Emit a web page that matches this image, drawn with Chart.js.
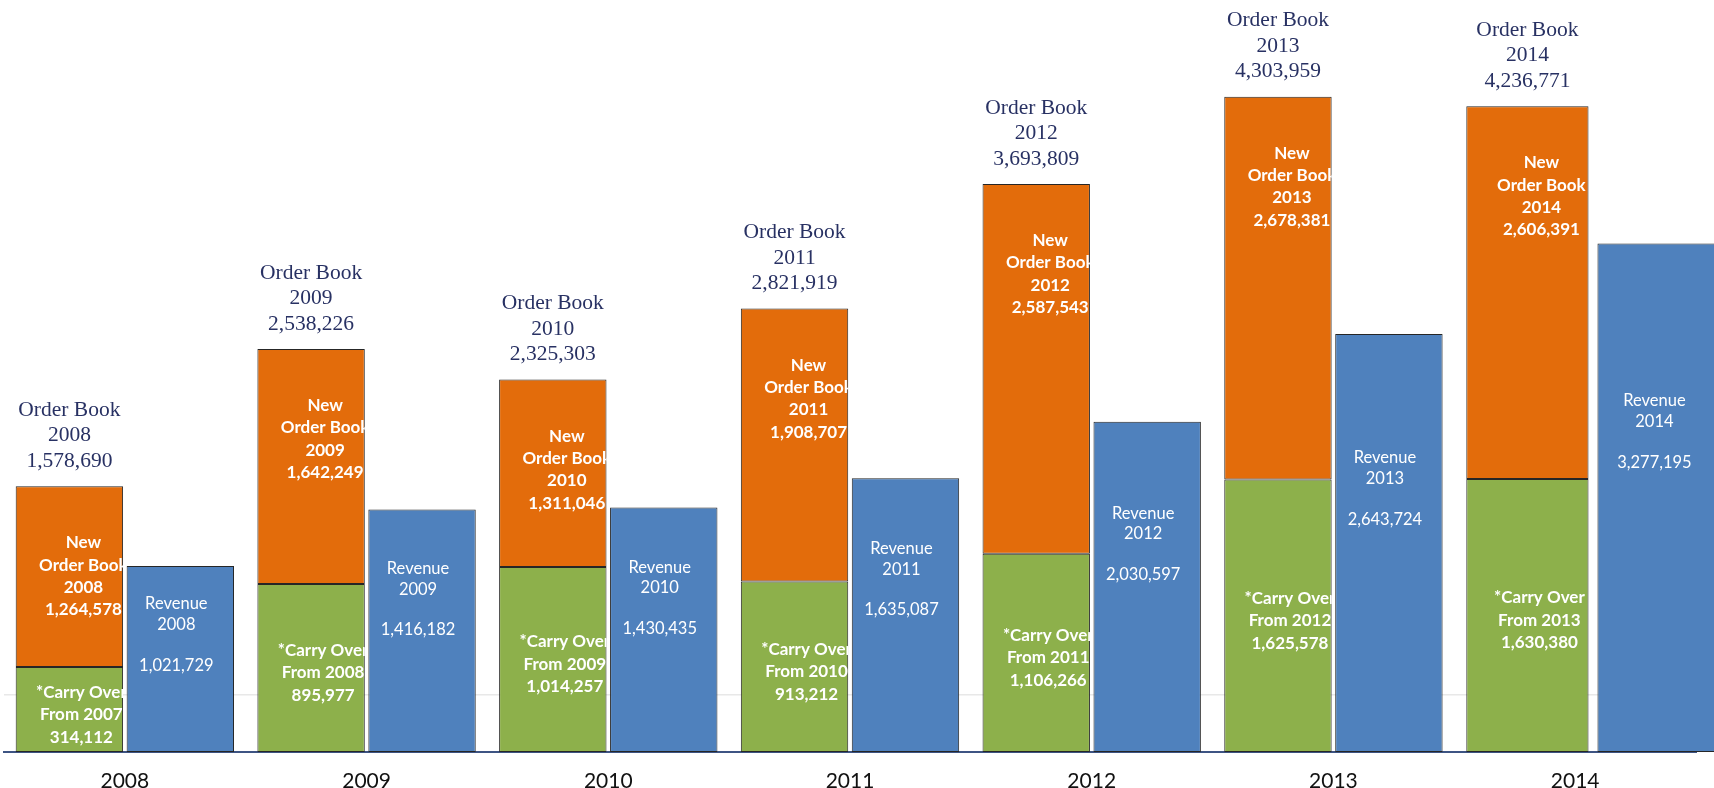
<!DOCTYPE html>
<html><head><meta charset="utf-8">
<script src="https://cdn.jsdelivr.net/npm/chart.js@4"></script>
<style>
html,body{margin:0;padding:0;background:#fff;overflow:hidden}
#wrap{position:relative;width:1714px;height:788px}
</style>
</head><body><div id="wrap"><canvas id="c"></canvas></div>
<script>
const years = ['2008','2009','2010','2011','2012','2013','2014'];
const carryOver = [314112, 895977, 1014257, 913212, 1106266, 1625578, 1630380];
const newOrders = [1264578, 1642249, 1311046, 1908707, 2587543, 2678381, 2606391];
const revenue = [1021729, 1416182, 1430435, 1635087, 2030597, 2643724, 3277195];
const orderBook = [1578690, 2538226, 2325303, 2821919, 3693809, 4303959, 4236771];
const carryFrom = ['2007','2008','2009','2010','2011','2012','2013'];
const gridTicks = [120000];

const AXIS_MIN = -280000;
const AXIS_MAX = 4980000;
const WIDE_INDEX = 6; // last group is drawn with wider bars in the original

const fmt = v => v.toLocaleString('en-US');
const normal = arr => arr.map((v, i) => i === WIDE_INDEX ? null : v);
const wide = arr => arr.map((v, i) => i === WIDE_INDEX ? v : null);

function drawLines(ctx, lines, cx, cy, offsets, clipRect) {
  ctx.save();
  if (clipRect) {
    ctx.beginPath();
    ctx.rect(clipRect.l, clipRect.t, clipRect.r - clipRect.l, clipRect.b - clipRect.t);
    ctx.clip();
  }
  lines.forEach((t, k) => ctx.fillText(t, cx, cy + offsets[k]));
  ctx.restore();
}

const labelPlugin = {
  id: 'barLabels',
  afterDatasetsDraw(chart) {
    const ctx = chart.ctx;
    const el = (ds, i) => {
      const m = chart.getDatasetMeta(i === WIDE_INDEX ? ds + 3 : ds);
      return m.data[i].getProps(['x','y','base','width'], true);
    };
    ctx.save();
    ctx.textAlign = 'center';
    ctx.textBaseline = 'middle';
    years.forEach((yr, i) => {
      const g = el(0, i), o = el(1, i), r = el(2, i);
      const rect = e => ({l: e.x - e.width/2, r: e.x + e.width/2, t: Math.min(e.y, e.base), b: Math.max(e.y, e.base)});

      ctx.fillStyle = '#283163';
      ctx.font = '21.5px "Liberation Serif"';
      drawLines(ctx, ['Order Book', yr, fmt(orderBook[i])], o.x, o.y - 25, [-51, -25.5, 0]);

      ctx.fillStyle = '#ffffff';
      ctx.font = 'bold 17px Lato';
      drawLines(ctx, ['New', 'Order Book', yr, fmt(newOrders[i])], o.x + 14, o.y + 90,
        [-33.5, -11.2, 11.2, 33.5], rect(o));
      const gc = (g.y + g.base) / 2 + 5;
      drawLines(ctx, ['*Carry Over', 'From ' + carryFrom[i], fmt(carryOver[i])], g.x + 12, gc,
        [-22.5, 0, 22.5], rect(g));
      ctx.font = '16.5px Lato';
      const rh = r.base - r.y;
      const rc = r.y + 0.37 * rh;
      drawLines(ctx, ['Revenue', yr, fmt(revenue[i])], r.x - 4, rc, [-30.6, -9.8, 30.6]);
    });
    ctx.restore();
  }
};

const common = {borderColor: '#262626', borderWidth: 1, inflateAmount: 0, borderSkipped: false,
  barPercentage: 0.968, categoryPercentage: 0.918};
const wideOb = {barPercentage: 1.28, categoryPercentage: 0.79};
const wideRev = {barPercentage: 0.732, categoryPercentage: 1.378, clip: false};

new Chart(document.getElementById('c'), {
  type: 'bar',
  data: {
    labels: years,
    datasets: [
      Object.assign({}, common, {label: 'Carry Over', data: normal(carryOver), stack: 'ob', backgroundColor: '#8DB04B', base: AXIS_MIN}),
      Object.assign({}, common, {label: 'New Order Book', data: normal(newOrders), stack: 'ob', backgroundColor: '#E36C0B'}),
      Object.assign({}, common, {label: 'Revenue', data: normal(revenue), stack: 'rev', backgroundColor: '#4F81BD', base: AXIS_MIN}),
      Object.assign({}, common, wideOb, {label: 'Carry Over 2014', data: wide(carryOver), stack: 'ob', backgroundColor: '#8DB04B', base: AXIS_MIN}),
      Object.assign({}, common, wideOb, {label: 'New Order Book 2014', data: wide(newOrders), stack: 'ob', backgroundColor: '#E36C0B'}),
      Object.assign({}, common, wideRev, {label: 'Revenue 2014', data: wide(revenue), stack: 'rev', backgroundColor: '#4F81BD', base: AXIS_MIN})
    ]
  },
  options: {
    responsive: true,
    maintainAspectRatio: false,
    animation: false,
    layout: {padding: {left: 4, right: 18, top: 0, bottom: 0}},
    plugins: {legend: {display: false}, tooltip: {enabled: false}},
    scales: {
      x: {
        stacked: true,
        grid: {display: false, drawTicks: false},
        border: {display: true, color: '#3d5483', width: 2},
        ticks: {padding: 17, color: '#111', font: {family: 'Lato', size: 21}},
        afterFit: a => { a.height = 36; }
      },
      y: {
        stacked: true,
        min: AXIS_MIN,
        max: AXIS_MAX,
        ticks: {display: false},
        grid: {color: '#e8e8e8', drawTicks: false, lineWidth: 1.5},
        border: {display: false},
        afterFit: a => { a.width = 0; },
        afterBuildTicks: a => { a.ticks = gridTicks.map(v => ({value: v})); }
      }
    }
  },
  plugins: [labelPlugin]
});
</script>
</body></html>
